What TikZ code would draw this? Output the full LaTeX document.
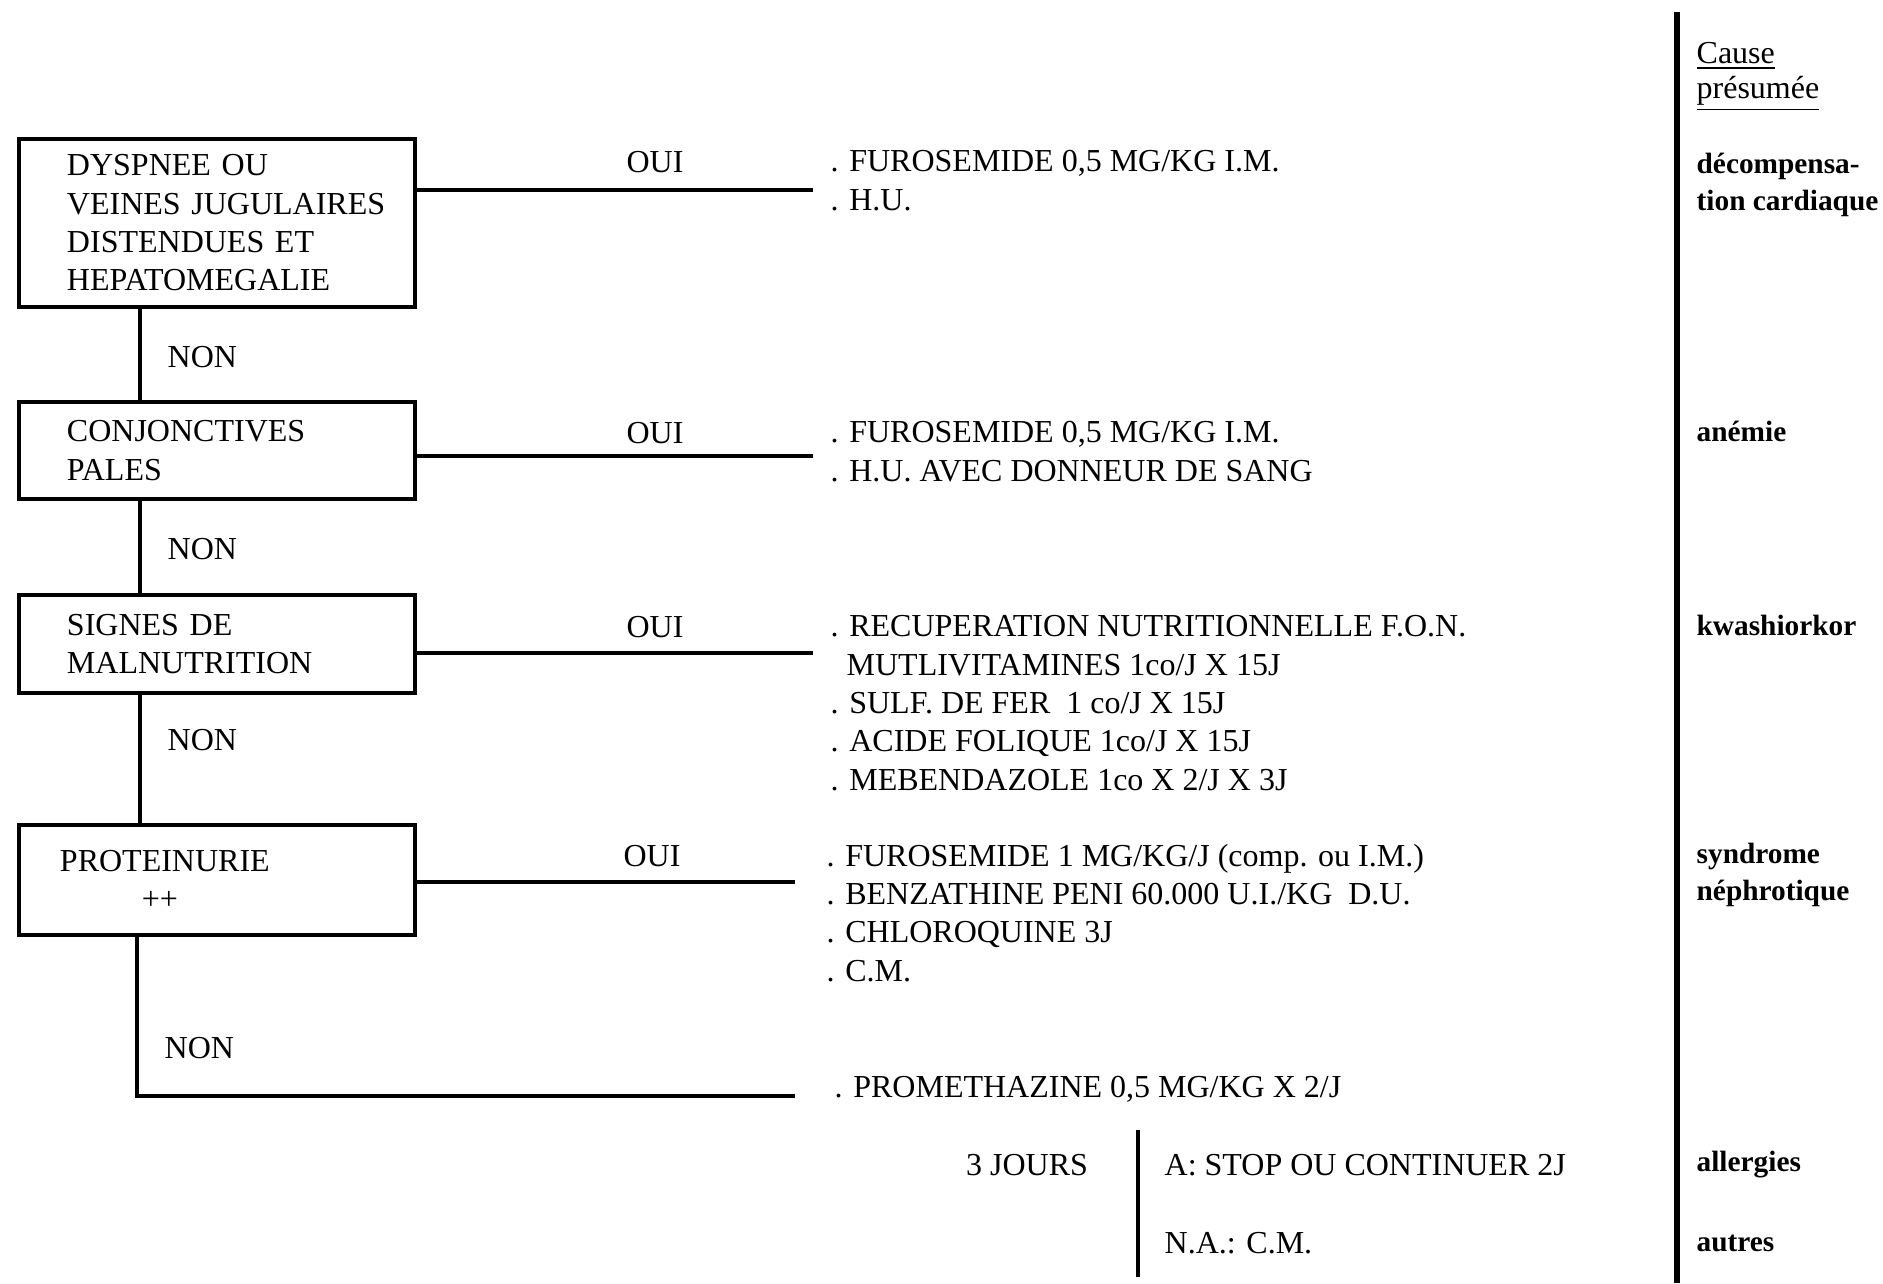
\documentclass[tikz,border=0pt]{standalone}
\usepackage{fontspec}
\setmainfont{Liberation Serif}
\usetikzlibrary{positioning}

\begin{document}
\begin{tikzpicture}[x=0.3pt, y=-0.3pt, font=\fontsize{9.6}{11.5}\selectfont,
    qbox/.style={draw, line width=1.2pt, anchor=north west, align=left, inner xsep=0pt,
      text width=118.8pt, execute at begin node={\leftskip=14.4pt}},
    lbl/.style={anchor=base, inner sep=0pt},
    med/.style={anchor=base west, align=left, inner sep=0pt},
    cause/.style={anchor=base west, align=left, inner sep=0pt,
      font=\fontsize{8.8}{11.1}\selectfont\bfseries},
    rule/.style={line width=1.2pt}]
  \useasboundingbox (0,0) rectangle (1883,1283);

  \node[qbox, minimum height=50.4pt] (dysp) at (17,137) {DYSPNEE OU\\VEINES JUGULAIRES\\DISTENDUES ET\\HEPATOMEGALIE};
  \node[qbox, minimum height=29.1pt] (conj) at (17,400) {CONJONCTIVES\\PALES};
  \node[qbox, minimum height=29.4pt] (malnu) at (17,593) {SIGNES DE\\MALNUTRITION};
  \node[qbox, minimum height=33pt, execute at begin node={\leftskip=12.3pt}] (prot) at (17,823) {PROTEINURIE\\\hphantom{PROT}++};

  \coordinate (spine) at (140,0);
  \coordinate (spinelow) at (137,0);
  \draw[rule] (dysp.south -| spine) -- (conj.north -| spine);
  \draw[rule] (conj.south -| spine) -- (malnu.north -| spine);
  \draw[rule] (malnu.south -| spine) -- (prot.north -| spine);

  \node[med] (non1) at (167,367) {NON};
  \node[med] (non2) at (167,559) {NON};
  \node[med] (non3) at (167,750) {NON};
  \node[med] (non4) at (164,1058) {NON};

  \coordinate (end1) at (813,190);
  \coordinate (end2) at (813,456);
  \coordinate (end3) at (813,653);
  \coordinate (end4) at (795,882);
  \coordinate (end5) at (795,1096);
  \draw[rule] (dysp.east |- end1) -- (end1);
  \draw[rule] (conj.east |- end2) -- (end2);
  \draw[rule] (malnu.east |- end3) -- (end3);
  \draw[rule] (prot.east |- end4) -- (end4);
  \draw[rule] (prot.south -| spinelow) |- (end5);

  \node[lbl] (oui1) at (655,172) {OUI};
  \node[lbl] (oui2) at (655,443) {OUI};
  \node[lbl] (oui3) at (655,637) {OUI};
  \node[lbl] (oui4) at (652,866) {OUI};

  \node[med] (trt1) at (830,210) {. FUROSEMIDE 0,5 MG/KG I.M.\\. H.U.};
  \node[med] (trt2) at (830,481) {. FUROSEMIDE 0,5 MG/KG I.M.\\. H.U. AVEC DONNEUR DE SANG};
  \node[med] (trt3) at (830,790) {. RECUPERATION NUTRITIONNELLE F.O.N.\\\hphantom{.} MUTLIVITAMINES 1co/J X 15J\\. SULF. DE FER\ \ 1 co/J X 15J\\. ACIDE FOLIQUE 1co/J X 15J\\. MEBENDAZOLE 1co X 2/J X 3J};
  \node[med] (trt4) at (826,981) {. FUROSEMIDE 1 MG/KG/J (comp. ou I.M.)\\. BENZATHINE PENI 60.000 U.I./KG\ \ D.U.\\. CHLOROQUINE 3J\\. C.M.};
  \node[med] (trt5) at (834,1097) {. PROMETHAZINE 0,5 MG/KG X 2/J};

  \coordinate (jtop) at (1138,1130);
  \coordinate (jbot) at (1138,1277);
  \draw[rule] (jtop) -- (jbot);
  \node[lbl] (jours) at (1027,1175) {3 JOURS};
  \node[med] (stop) at (1164,1175) {A: STOP OU CONTINUER 2J};
  \node[med] (na) at (1164,1253) {N.A.: C.M.};

  \coordinate (ctop) at (1677,12);
  \coordinate (cbot) at (1677,1283);
  \draw[line width=1.6pt] (ctop) -- (cbot);
  \node[cause, font=\fontsize{9.6}{10.5}\selectfont] (cause) at (1696,98) {\underline{Cause}\\\underline{présumée}};
  \node[cause] (decomp) at (1696,210) {décompensa-\\tion cardiaque};
  \node[cause] (anemie) at (1696,441) {anémie};
  \node[cause] (kwash) at (1696,635) {kwashiorkor};
  \node[cause] (nephro) at (1696,900) {syndrome\\néphrotique};
  \node[cause] (allerg) at (1696,1171) {allergies};
  \node[cause] (autres) at (1696,1251) {autres};
\end{tikzpicture}
\end{document}
